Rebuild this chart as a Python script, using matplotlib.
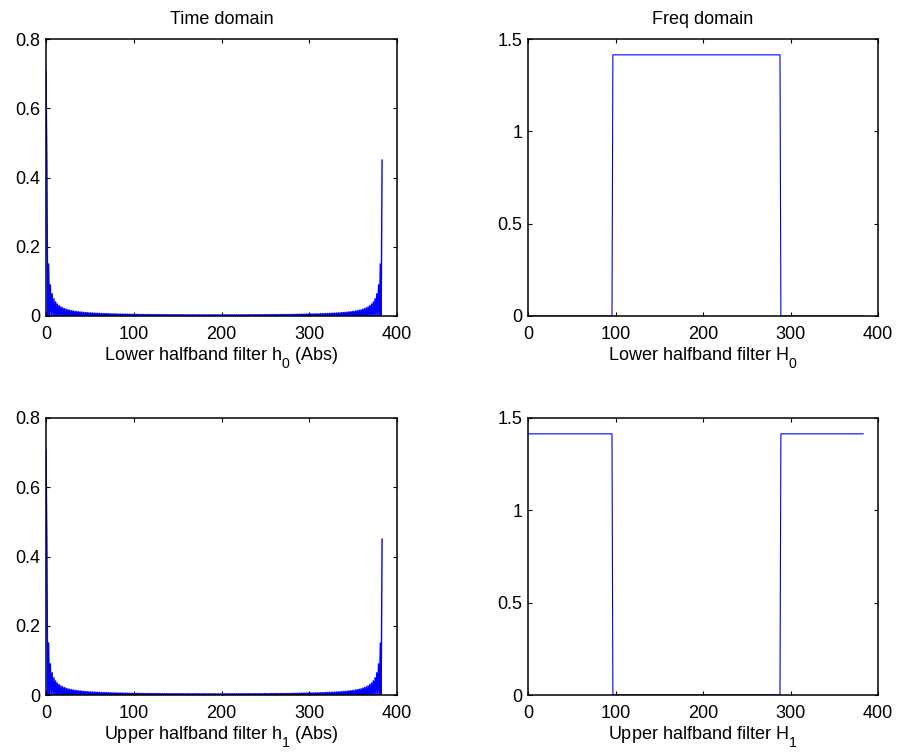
import numpy as np
import matplotlib.pyplot as plt
import matplotlib._mathtext as mathtext_core
from matplotlib.ticker import FuncFormatter

plt.rcParams['font.family'] = ['Liberation Sans', 'DejaVu Sans']
plt.rcParams['mathtext.default'] = 'regular'
plt.rcParams['font.size'] = 13

# bigger, lower subscripts (h_0, H_1 in the axis labels)
mathtext_core.SHRINK_FACTOR = 0.78
mathtext_core.FontConstantsBase.sub1 = 0.85

N = 384
PEAK = 0.7071
STEP = 1.4142

# |h| at odd lags 1, 3, ..., 191 (even lags are zero); the tail 193..383 mirrors it
odd_abs = [
    0.45016, 0.15007, 0.09006, 0.06434, 0.05006, 0.04098, 0.03469, 0.03009,
    0.02657, 0.02379, 0.02154, 0.01969, 0.01813, 0.01681, 0.01567, 0.01468,
    0.01381, 0.01304, 0.01235, 0.01174, 0.01119, 0.01069, 0.01023, 0.00982,
    0.00944, 0.00909, 0.00877, 0.00847, 0.00819, 0.00794, 0.00770, 0.00747,
    0.00726, 0.00707, 0.00688, 0.00671, 0.00655, 0.00640, 0.00625, 0.00612,
    0.00599, 0.00586, 0.00575, 0.00564, 0.00553, 0.00544, 0.00534, 0.00525,
    0.00517, 0.00508, 0.00501, 0.00493, 0.00486, 0.00480, 0.00473, 0.00467,
    0.00461, 0.00456, 0.00450, 0.00445, 0.00441, 0.00436, 0.00432, 0.00427,
    0.00424, 0.00420, 0.00416, 0.00413, 0.00409, 0.00406, 0.00403, 0.00401,
    0.00398, 0.00396, 0.00393, 0.00391, 0.00388, 0.00386, 0.00384, 0.00382,
    0.00380, 0.00379, 0.00377, 0.00376, 0.00375, 0.00374, 0.00373, 0.00372,
    0.00371, 0.00370, 0.00370, 0.00369, 0.00369, 0.00369, 0.00368, 0.00368,
]

odd_all = odd_abs + odd_abs[::-1]
h_abs = np.zeros(N)
h_abs[0] = PEAK
h_abs[1::2] = odd_all
h0_abs = h_abs
h1_abs = h_abs.copy()

# ideal halfband responses
H0 = [0.0] * 97 + [STEP] * 192 + [0.0] * 95
H1 = [STEP] * 97 + [0.0] * 192 + [STEP] * 95

n = np.arange(N)

fig = plt.figure(figsize=(8.98, 7.52), dpi=100)
W, Hpx = 898, 752


def make_axes(x0, y0, x1, y1):
    return fig.add_axes([x0 / W, 1 - y1 / Hpx, (x1 - x0) / W, (y1 - y0) / Hpx])


ax_t0 = make_axes(46, 39, 397, 316)
ax_f0 = make_axes(528, 39, 878, 316)
ax_t1 = make_axes(46, 418, 397, 695)
ax_f1 = make_axes(528, 418, 878, 695)

fmt = FuncFormatter(lambda v, p: '%g' % v)

panels = [
    (ax_t0, h0_abs, 1.0, [0, 0.2, 0.4, 0.6, 0.8], 0.8, 'Lower halfband filter h$_0$ (Abs)', 'Time domain'),
    (ax_f0, H0, 0.8, [0, 0.5, 1, 1.5], 1.5, 'Lower halfband filter H$_0$', 'Freq domain'),
    (ax_t1, h1_abs, 1.0, [0, 0.2, 0.4, 0.6, 0.8], 0.8, 'Upper halfband filter h$_1$ (Abs)', None),
    (ax_f1, H1, 0.8, [0, 0.5, 1, 1.5], 1.5, 'Upper halfband filter H$_1$', None),
]

for ax, y, lw, yt, ymax, xlab, title in panels:
    ax.plot(n, y, color=(0, 0, 1), linewidth=lw)
    ax.set_xlim(0, 400)
    ax.set_ylim(0, ymax)
    ax.set_xticks([0, 100, 200, 300, 400])
    ax.set_yticks(yt)
    ax.yaxis.set_major_formatter(fmt)
    ax.xaxis.set_major_formatter(fmt)
    ax.tick_params(direction='in', length=3, width=0.8, top=True, right=True,
                   labelsize=13)
    ax.tick_params(axis='y', pad=4)
    ax.tick_params(axis='x', pad=7)
    for s in ax.spines.values():
        s.set_linewidth(1.1)
    ax.set_xlabel(xlab, fontsize=13, labelpad=2)
    if title:
        ax.set_title(title, fontsize=13, pad=11)

fig.savefig('out.png', dpi=100)
